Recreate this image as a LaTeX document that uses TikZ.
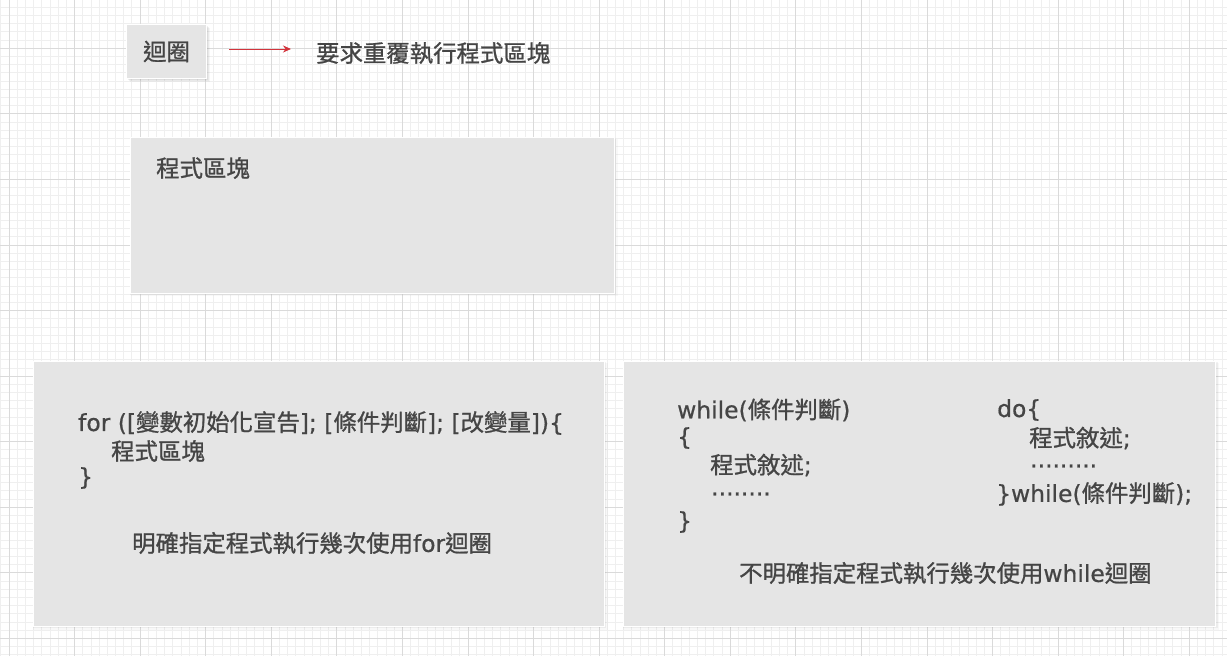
\documentclass[tikz,border=0pt]{standalone}
\usepackage{fontspec}
\setmainfont{Noto Sans CJK TC}[RawFeature={embolden=1.0}]
\newfontfamily\latfont{DejaVu Sans}[RawFeature={embolden=0.6}]
\newcommand\lat[1]{{\latfont #1}}
\usetikzlibrary{arrows.meta,shadows}
\definecolor{txtcol}{HTML}{454545}
\definecolor{boxfill}{HTML}{E5E5E5}
\definecolor{gridminor}{HTML}{EFEFEF}
\definecolor{gridmajor}{HTML}{DADADA}
\definecolor{arrowred}{HTML}{D2343C}
\begin{document}
\begin{tikzpicture}[x=1pt,y=-1pt,
  minorline/.style={draw=gridminor,line width=0.9pt},
  majorline/.style={draw=gridmajor,line width=0.9pt},
  box/.style={fill=boxfill,draw=white,line width=1pt,inner sep=0pt},
  smallshadow/.style={drop shadow={shadow xshift=1pt,shadow yshift=-1pt,opacity=0.12},
                      drop shadow={shadow xshift=2pt,shadow yshift=-2pt,opacity=0.10},
                      drop shadow={shadow xshift=3.5pt,shadow yshift=-3.5pt,opacity=0.07}},
  bigshadow/.style={drop shadow={shadow xshift=0.8pt,shadow yshift=-1.2pt,opacity=0.10,shadow scale=1.004},
                    drop shadow={shadow xshift=1.6pt,shadow yshift=-2.2pt,opacity=0.05,shadow scale=1.006}},
  txt/.style={text=txtcol,font=\fontsize{23.4}{28}\selectfont,inner sep=0pt,anchor=west},
  connector/.style={draw=arrowred,line width=1pt,-{Stealth[length=8pt,width=7pt]}}]
\useasboundingbox (0,0) rectangle (1227,656);
\fill[white] (0,0) rectangle (1227,656);
% grid
\foreach \i in {-1,...,148} \draw[minorline] ({9+8.19625*\i},0) -- ({9+8.19625*\i},656);
\foreach \j in {-6,...,74} \draw[minorline] (0,{48.3+8.19625*\j}) -- (1227,{48.3+8.19625*\j});
\foreach \i in {0,...,18} \draw[majorline] ({9+65.57*\i},0) -- ({9+65.57*\i},656);
\foreach \j in {-1,...,9} \draw[majorline] (0,{48.3+65.57*\j}) -- (1227,{48.3+65.57*\j});
% boxes
\node[box,smallshadow,minimum width=80pt,minimum height=54pt,anchor=north west] (loop) at (126,24) {};
\node[txt,anchor=center] (looplabel) at (loop.center) {迴圈};
\node[box,bigshadow,minimum width=484pt,minimum height=156pt,anchor=north west] (blockbox) at (130,137) {};
\node[box,bigshadow,minimum width=571pt,minimum height=265pt,anchor=north west] (forbox) at (33,361) {};
\node[box,bigshadow,minimum width=592pt,minimum height=265pt,anchor=north west] (whilebox) at (623,361) {};
% top row
\coordinate (arrstart) at (229,49);
\node[txt] (desc) at (316,53) {要求重覆執行程式區塊};
\coordinate (arrend) at (291,49);
\draw[connector] (arrstart) -- (arrend);
% block box
\node[txt] (blocklabel) at (156,168) {程式區塊};
% for box
\node[txt] (for1) at (78,423) {\lat{for ([}變數初始化宣告\lat{]; [}條件判斷\lat{]; [}改變量\lat{])\{}};
\node[txt] (for2) at (111,451) {程式區塊};
\node[txt] (for3) at (78,478) {\lat{\}}};
\node[txt] (fornote) at (132,543) {明確指定程式執行幾次使用\lat{for}迴圈};
% while box
\node[txt] (wh1) at (677,410) {\lat{while(}條件判斷\lat{)}};
\node[txt] (wh2) at (677,438) {\lat{\{}};
\node[txt] (wh3) at (710,465) {程式敘述\lat{;}};
\node[txt] (wh4) at (711,494) {\lat{........}};
\node[txt] (wh5) at (677,522) {\lat{\}}};
\node[txt] (do1) at (997,410) {\lat{do\{}};
\node[txt] (do2) at (1029,438) {程式敘述\lat{;}};
\node[txt] (do3) at (1030,466) {\lat{.........}};
\node[txt] (do4) at (996,494) {\lat{\}while(}條件判斷\lat{);}};
\node[txt] (whilenote) at (739,573) {不明確指定程式執行幾次使用\lat{while}迴圈};
\end{tikzpicture}
\end{document}
